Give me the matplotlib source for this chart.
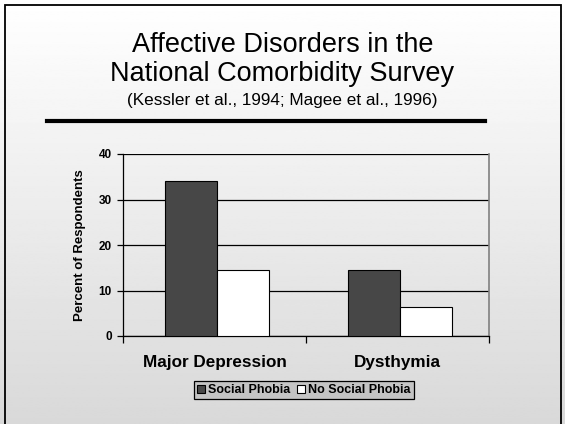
import matplotlib.pyplot as plt
import numpy as np
from matplotlib.patches import Rectangle
from matplotlib.lines import Line2D

plt.rcParams['font.family'] = ['Liberation Sans', 'DejaVu Sans']

categories = ['Major Depression', 'Dysthymia']
social_phobia = [34, 14.5]
no_social_phobia = [14.5, 6.4]
series_names = ['Social Phobia', 'No Social Phobia']
y_ticks = [0, 10, 20, 30, 40]

W, H = 565, 424
fig = plt.figure(figsize=(W / 100, H / 100), dpi=100)

# slide background: white fading to light grey
bg = fig.add_axes([0, 0, 1, 1], zorder=-10)
grad = np.linspace(1.0, 0.85, 256).reshape(-1, 1)
bg.imshow(grad, cmap='gray', vmin=0, vmax=1, aspect='auto', extent=[0, 1, 0, 1])
bg.set_axis_off()

# slide frame (bottom edge runs off the page)
fig.patches.append(Rectangle((4.5 / W, -0.05), (560.5 - 4.5) / W, 1.05 - 5 / H,
                             transform=fig.transFigure, fill=False,
                             edgecolor='black', linewidth=1.3, clip_on=False))

fig.text(0.5, 1 - 45 / H, 'Affective Disorders in the', ha='center', va='center', fontsize=19.5)
fig.text(0.5, 1 - 74 / H, 'National Comorbidity Survey', ha='center', va='center', fontsize=19.5)
fig.text(0.5, 1 - 101 / H, '(Kessler et al., 1994; Magee et al., 1996)', ha='center', va='center', fontsize=12.3)
fig.lines.append(Line2D([47 / W, 485 / W], [1 - 121 / H, 1 - 121 / H],
                        transform=fig.transFigure, color='black', linewidth=3))

ax = fig.add_axes([123 / W, 88 / H, 366 / W, 182 / H])
ax.patch.set_alpha(0)

x = np.arange(len(categories))
w = 0.285
ax.bar(x - w / 2 + 0.012, social_phobia, w, color='#474747', edgecolor='black', linewidth=0.8,
       label=series_names[0], zorder=3)
ax.bar(x + w / 2 + 0.012, no_social_phobia, w, color='white', edgecolor='black', linewidth=0.8,
       label=series_names[1], zorder=3)

ax.set_xlim(-0.5, 1.5)
ax.set_ylim(0, 40)
ax.set_yticks(y_ticks)
ax.set_yticklabels([str(t) for t in y_ticks], fontsize=8.5, fontweight='bold')
ax.yaxis.grid(True, color='black', linewidth=0.9, zorder=0)
ax.set_axisbelow(True)

ax.set_xticks([-0.5, 0.5, 1.5])
ax.set_xticklabels([])
ax.set_xticks(x, minor=True)
ax.set_xticklabels(categories, minor=True, fontsize=12.3, fontweight='bold')
ax.tick_params(axis='x', which='minor', length=0, pad=14)
ax.tick_params(axis='x', which='major', direction='out', length=5, width=0.9)
ax.tick_params(axis='y', direction='out', length=4, width=0.9, pad=4)

ax.set_ylabel('Percent of Respondents', fontsize=9.5, fontweight='bold', labelpad=9)

ax.spines['top'].set_visible(False)
ax.spines['right'].set_color('#808080')
ax.spines['right'].set_linewidth(1.2)
ax.spines['left'].set_linewidth(0.9)
ax.spines['bottom'].set_linewidth(0.9)

leg = fig.legend(loc='center', bbox_to_anchor=(304 / W, 1 - 390 / H), ncol=2,
                 prop={'size': 9, 'weight': 'bold'}, handlelength=0.6, handleheight=0.6,
                 handletextpad=0.3, columnspacing=0.5, borderpad=0.25, fancybox=False,
                 framealpha=1)
leg.get_frame().set_facecolor('#c4c4c4')
leg.get_frame().set_edgecolor('black')
leg.get_frame().set_linewidth(0.9)

fig.savefig('out.png', dpi=100)
